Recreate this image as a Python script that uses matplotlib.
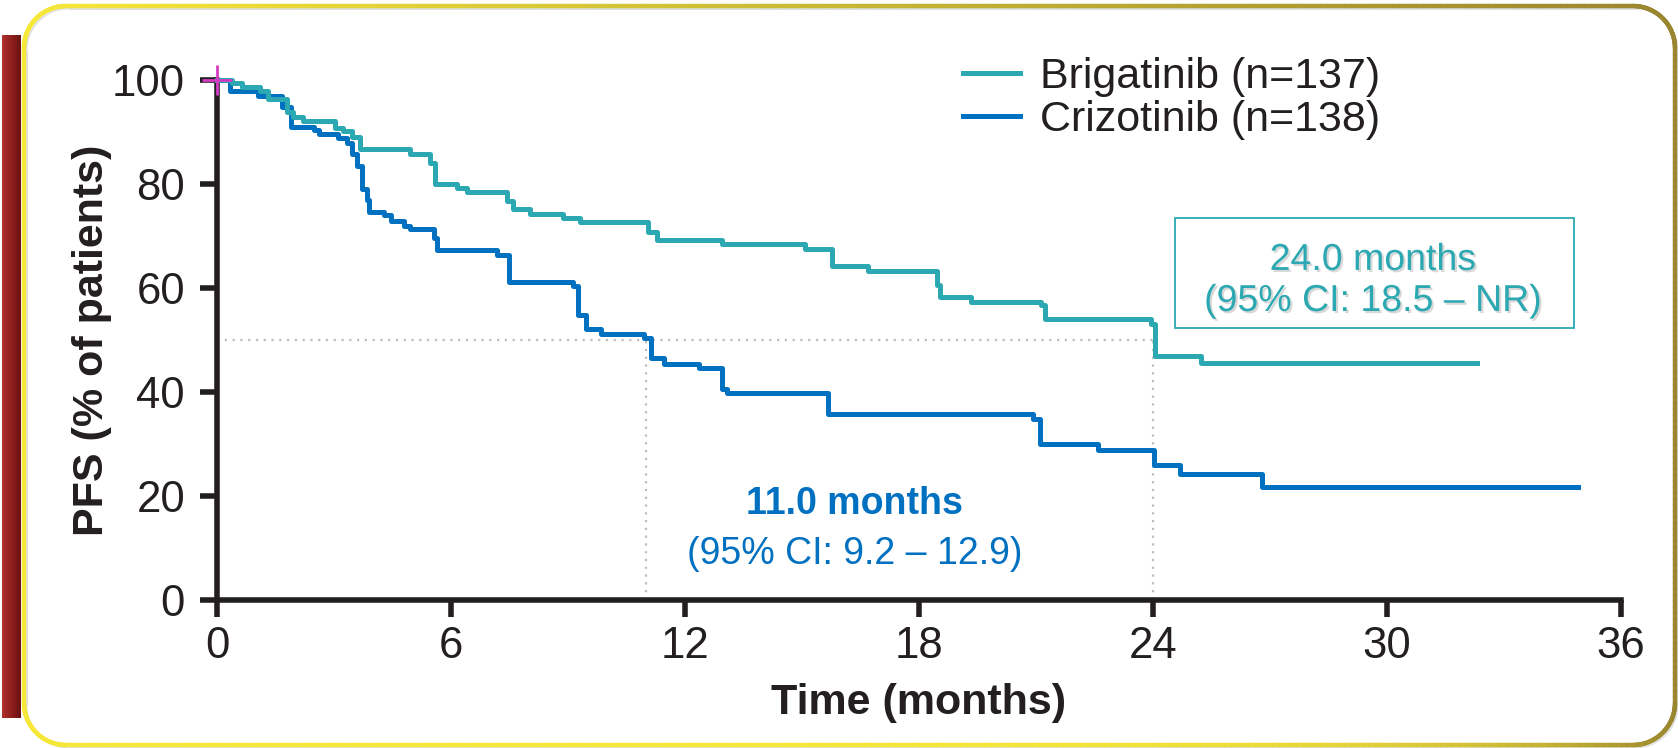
import matplotlib.pyplot as plt
import matplotlib.patheffects as pe
import numpy as np
from matplotlib.collections import LineCollection
from matplotlib.colors import LinearSegmentedColormap, to_rgb
from matplotlib.patches import Rectangle

plt.rcParams['font.family'] = ['Liberation Sans', 'DejaVu Sans']

W, H = 1678, 748
TEAL = '#2BA8B1'
BLUE = '#0071C1'
INK = '#231F20'

# Kaplan-Meier step values: month of each step and % progression-free after it
brig_t = [0, 0.38, 0.63, 1.10, 1.32, 1.79, 1.96, 2.21, 3.03, 3.24,
          3.45, 3.67, 4.95, 5.46, 5.59, 6.15, 6.40, 7.43, 7.60, 8.03,
          8.88, 9.31, 11.06, 11.27, 12.96, 15.07, 15.76, 16.69, 18.46, 18.55,
          19.34, 21.13, 21.24, 23.95, 24.05, 25.24, 32.3]
brig_s = [100, 99.4, 98.6, 97.8, 96.3, 93.9, 92.9, 92.1, 90.7, 90.1,
          89.1, 86.7, 85.7, 84.1, 80.0, 79.3, 78.5, 76.8, 75.2, 74.2,
          73.4, 72.6, 70.8, 69.2, 68.5, 67.5, 64.2, 63.3, 60.6, 58.3,
          57.4, 56.7, 54.0, 53.1, 46.9, 45.6, 45.6]

criz_t = [0, 0.33, 1.06, 1.66, 1.90, 2.48, 2.61, 3.10, 3.33, 3.47,
          3.59, 3.72, 3.85, 3.89, 4.28, 4.45, 4.79, 4.96, 5.56, 5.65,
          7.19, 7.49, 9.12, 9.25, 9.46, 9.85, 10.96, 11.13, 11.47, 12.35,
          12.94, 13.07, 15.67, 20.93, 21.10, 22.60, 24.02, 24.69, 26.80, 34.9]
criz_s = [100, 97.8, 96.9, 94.9, 91.0, 90.4, 89.6, 88.8, 87.8, 85.8,
          83.4, 79.1, 76.9, 74.7, 74.0, 72.8, 71.9, 71.3, 69.6, 67.3,
          66.3, 61.2, 60.3, 54.8, 52.1, 51.2, 50.3, 46.5, 45.3, 44.6,
          40.5, 39.8, 35.8, 34.9, 30.0, 28.8, 26.0, 24.2, 21.8, 21.8]

brig_label = 'Brigatinib (n=137)'
criz_label = 'Crizotinib (n=138)'
brig_median = 24.0
criz_median = 11.0
brig_ci = '(95% CI: 18.5 – NR)'
criz_ci = '(95% CI: 9.2 – 12.9)'

x_ticks = [0, 6, 12, 18, 24, 30, 36]
y_ticks = [0, 20, 40, 60, 80, 100]


def rounded_frame(x0, y0, x1, y1, r, n=40):
    """Points (in pixels) around a rounded rectangle, clockwise from top-left."""
    pts = []
    corners = [(x0 + r, y1 - r, 180, 90), (x1 - r, y1 - r, 90, 0),
               (x1 - r, y0 + r, 0, -90), (x0 + r, y0 + r, -90, -180)]
    for cx, cy, a0, a1 in corners:
        a = np.radians(np.linspace(a0, a1, n))
        pts.extend(zip(cx + r * np.cos(a), cy + r * np.sin(a)))
    pts.append(pts[0])
    return np.array(pts)


fig = plt.figure(figsize=(W / 100, H / 100), dpi=100)

# gold frame, yellow on the left/bottom darkening to olive at the top right
pts = rounded_frame(24, 3, 1675, 742, 42)
# subdivide so the colour gradient runs smoothly along straight edges
dense = []
for a, b in zip(pts[:-1], pts[1:]):
    k = max(2, int(np.hypot(*(b - a)) // 6))
    dense.extend(a + (b - a) * s for s in np.linspace(0, 1, k, endpoint=False))
dense.append(pts[-1])
dense = np.array(dense)
segs = np.stack([dense[:-1], dense[1:]], axis=1)
mid = segs.mean(axis=1)
xn = (mid[:, 0] - 24) / (1675 - 24)
yn = (mid[:, 1] - 3) / (742 - 3)
t = np.clip(xn ** (1 + 6 * (1 - yn)), 0, 1)
c0, c1 = np.array(to_rgb('#F6E83A')), np.array(to_rgb('#9A8630'))
cols = c0[None, :] * (1 - t[:, None]) + c1[None, :] * t[:, None]
shadow = LineCollection((segs + [2.5, -2.5]) / [W, H], colors='#D9D9D9',
                        linewidths=1.2, transform=fig.transFigure)
frame = LineCollection(segs / [W, H], colors=cols, linewidths=3.2,
                       transform=fig.transFigure, capstyle='round')
fig.add_artist(shadow)
fig.add_artist(frame)

# dark red side bar
ax_bar = fig.add_axes([2 / W, (H - 718) / H, 18 / W, (718 - 35) / H])
bar_cmap = LinearSegmentedColormap.from_list('bar', ['#B0332E', '#8E1F1D', '#6A1212'])
ax_bar.imshow(np.linspace(0, 1, 50)[None, :], cmap=bar_cmap, aspect='auto')
ax_bar.axis('off')

ax = fig.add_axes([217 / W, (H - 600) / H, 1404 / W, 520 / H])

# median guide lines
guide = dict(ls=(0, (1, 2.5)), color='#BDBDBD', lw=1.6, zorder=1)
ax.plot([0, brig_median], [50, 50], **guide)
ax.plot([criz_median, criz_median], [0, 50], **guide)
ax.plot([brig_median, brig_median], [0, 50], **guide)

ln_c, = ax.step(criz_t, criz_s, where='post', color=BLUE, lw=3.6,
                label=criz_label, clip_on=False, zorder=3)
ln_b, = ax.step(brig_t, brig_s, where='post', color=TEAL, lw=3.6,
                label=brig_label, clip_on=False, zorder=4)
ax.plot([0], [100], marker='+', color='#D43BC4', markersize=22, mew=2,
        clip_on=False, zorder=6)

ax.set_xlim(0, 36)
ax.set_ylim(0, 100)
ax.set_xticks(x_ticks)
ax.set_yticks(y_ticks)
for side in ('top', 'right'):
    ax.spines[side].set_visible(False)
for side in ('left', 'bottom'):
    ax.spines[side].set_linewidth(4)
    ax.spines[side].set_color(INK)
ax.tick_params(axis='both', width=4, length=12, color=INK, labelsize=31.5, labelcolor=INK)
ax.tick_params(axis='y', pad=11)
ax.tick_params(axis='x', pad=7)

ax.set_xlabel('Time (months)', fontsize=31, fontweight='bold', color=INK)
ax.xaxis.set_label_coords(0.5, -0.16)
ax.set_ylabel('PFS (% of patients)', fontsize=31, fontweight='bold', color=INK)
ax.yaxis.set_label_coords(-0.075, 0.5)

ax.legend(handles=[ln_b, ln_c], loc='upper left', frameon=False, fontsize=31,
          bbox_to_anchor=(963 / W, 1 - 57 / H), bbox_transform=fig.transFigure,
          borderpad=0, borderaxespad=0, labelspacing=0.07, handlelength=1.33,
          handletextpad=0.46, labelcolor=INK)

# crizotinib median annotation
ax.text(16.35, 18.4, f'{criz_median:.1f} months', color=BLUE, fontsize=27,
        fontweight='bold', ha='center', va='center')
ax.text(16.35, 8.9, criz_ci, color=BLUE, fontsize=27, ha='center', va='center')

# brigatinib median annotation in a box
soft = [pe.withSimplePatchShadow(offset=(1.5, -1.5), shadow_rgbFace='#7F7F7F', alpha=0.3)]
ax.add_patch(Rectangle((24.56, 52.3), 10.24, 21.2, fill=False, edgecolor=TEAL,
                       lw=1.3, clip_on=False, zorder=2))
ax.text(29.64, 65.4, f'{brig_median:.1f} months', color=TEAL, fontsize=27,
        ha='center', va='center', path_effects=soft)
ax.text(29.64, 57.5, brig_ci, color=TEAL, fontsize=27, ha='center', va='center',
        path_effects=soft)

fig.savefig('out.png', dpi=100)
